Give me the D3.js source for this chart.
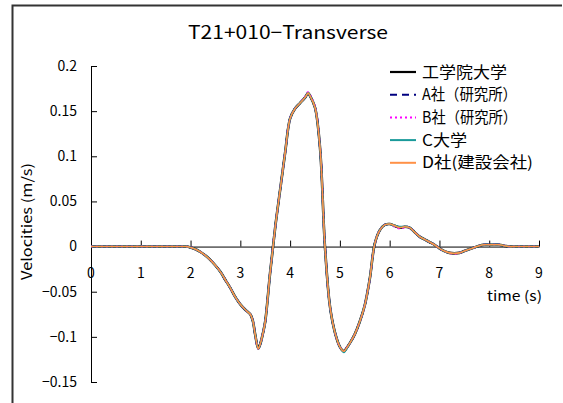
<!DOCTYPE html>
<html lang="ja">
<head>
<meta charset="UTF-8">
<title>T21+010-Transverse</title>
<script src="https://d3js.org/d3.v7.min.js"></script>
<style>
  body { margin: 0; background: #fff; }
  svg { display: block; font-family: "Noto Sans CJK JP", "Noto Sans", sans-serif; }
</style>
</head>
<body>
<svg width="563" height="403"></svg>
<script>
// time axis (s)
const time = [0, 1, 1.8, 1.9, 2.0, 2.1, 2.2, 2.3, 2.4, 2.5, 2.6, 2.7, 2.8, 2.9, 3.0, 3.1, 3.2, 3.25, 3.3, 3.36,
  3.4, 3.45, 3.5, 3.6, 3.7, 3.8, 3.9, 4.0, 4.1, 4.2, 4.3, 4.36, 4.4, 4.5, 4.6, 4.7, 4.8, 4.9, 5.0, 5.08,
  5.1, 5.2, 5.3, 5.4, 5.5, 5.6, 5.7, 5.8, 5.9, 6.0, 6.1, 6.2, 6.3, 6.4, 6.5, 6.6, 6.7, 6.8, 6.9, 7.0,
  7.1, 7.2, 7.3, 7.4, 7.5, 7.6, 7.7, 7.8, 7.9, 8.0, 8.1, 8.2, 8.3, 8.4, 8.5, 9];

// velocities (m/s), one array per organisation
const kogakuin = [0, 0, 0, 0, -0.001, -0.003, -0.006, -0.010, -0.015, -0.021, -0.028, -0.037, -0.046, -0.056, -0.064, -0.070, -0.075, -0.082, -0.098, -0.113,
  -0.108, -0.097, -0.083, -0.028, 0.021, 0.063, 0.104, 0.142, 0.153, 0.159, 0.165, 0.170, 0.167, 0.154, 0.110, 0.000, -0.066, -0.095, -0.111, -0.116,
  -0.115, -0.107, -0.097, -0.083, -0.065, -0.036, 0.003, 0.018, 0.024, 0.025, 0.023, 0.021, 0.022, 0.021, 0.016, 0.011, 0.008, 0.005, 0.002, -0.002,
  -0.005, -0.007, -0.0075, -0.007, -0.005, -0.003, -0.001, 0.001, 0.002, 0.002, 0.002, 0.002, 0.001, 0.000, 0, 0];
const companyA = [0, 0, 0, 0, -0.001, -0.003, -0.006, -0.010, -0.015, -0.021, -0.028, -0.037, -0.046, -0.056, -0.064, -0.070, -0.075, -0.082, -0.098, -0.113,
  -0.108, -0.097, -0.083, -0.028, 0.021, 0.063, 0.104, 0.142, 0.153, 0.159, 0.165, 0.170, 0.167, 0.154, 0.110, 0.000, -0.066, -0.095, -0.111, -0.116,
  -0.115, -0.107, -0.097, -0.083, -0.065, -0.036, 0.003, 0.018, 0.024, 0.025, 0.023, 0.021, 0.022, 0.021, 0.016, 0.011, 0.008, 0.005, 0.002, -0.002,
  -0.005, -0.007, -0.0075, -0.007, -0.005, -0.003, -0.001, 0.001, 0.002, 0.002, 0.002, 0.002, 0.001, 0.000, 0, 0];
const companyB = [0, 0, 0, 0, -0.001, -0.003, -0.006, -0.010, -0.015, -0.021, -0.028, -0.037, -0.046, -0.056, -0.064, -0.070, -0.075, -0.082, -0.098, -0.113,
  -0.108, -0.097, -0.083, -0.028, 0.021, 0.063, 0.104, 0.142, 0.153, 0.159, 0.166, 0.171, 0.168, 0.155, 0.111, 0.001, -0.066, -0.095, -0.111, -0.116,
  -0.115, -0.107, -0.097, -0.083, -0.065, -0.036, 0.003, 0.018, 0.024, 0.025, 0.022, 0.020, 0.021, 0.021, 0.016, 0.011, 0.008, 0.005, 0.002, -0.002,
  -0.005, -0.007, -0.008, -0.007, -0.005, -0.003, -0.001, 0.001, 0.002, 0.002, 0.002, 0.002, 0.001, 0.000, 0, 0];
const universityC = [0, 0, 0, 0, -0.001, -0.003, -0.006, -0.010, -0.015, -0.021, -0.028, -0.037, -0.046, -0.056, -0.064, -0.070, -0.075, -0.082, -0.098, -0.113,
  -0.108, -0.097, -0.083, -0.028, 0.021, 0.063, 0.104, 0.142, 0.153, 0.159, 0.165, 0.170, 0.167, 0.154, 0.110, 0.000, -0.066, -0.095, -0.111, -0.117,
  -0.116, -0.107, -0.097, -0.083, -0.065, -0.036, 0.003, 0.018, 0.024, 0.025, 0.023, 0.022, 0.022, 0.021, 0.016, 0.011, 0.008, 0.005, 0.002, -0.002,
  -0.005, -0.007, -0.0075, -0.007, -0.005, -0.003, -0.001, 0.001, 0.002, 0.002, 0.002, 0.002, 0.001, 0.000, 0, 0];
const companyD = [0, 0, 0, 0, -0.001, -0.003, -0.006, -0.010, -0.015, -0.021, -0.028, -0.037, -0.046, -0.056, -0.064, -0.070, -0.075, -0.082, -0.098, -0.113,
  -0.108, -0.097, -0.083, -0.028, 0.021, 0.063, 0.104, 0.142, 0.153, 0.159, 0.165, 0.170, 0.167, 0.154, 0.110, 0.000, -0.066, -0.095, -0.111, -0.116,
  -0.115, -0.107, -0.097, -0.083, -0.065, -0.036, 0.003, 0.018, 0.024, 0.025, 0.023, 0.021, 0.022, 0.021, 0.016, 0.011, 0.008, 0.005, 0.002, -0.002,
  -0.005, -0.007, -0.0075, -0.007, -0.005, -0.003, -0.001, 0.001, 0.002, 0.002, 0.002, 0.002, 0.001, 0.000, 0, 0];

const seriesNames = ["工学院大学", "A社（研究所）", "B社（研究所）", "C大学", "D社(建設会社)"];
const seriesValues = [kogakuin, companyA, companyB, universityC, companyD];
const seriesColors = ["#000000", "#000080", "#ff00ff", "#1a9a9a", "#ff9147"];
const seriesDash = [null, "7,5", "2,3", null, null];
const seriesWidth = [2.6, 2, 2, 2, 1.6];

const xTicks = [0, 1, 2, 3, 4, 5, 6, 7, 8, 9];
const yTicks = [-0.15, -0.1, -0.05, 0, 0.05, 0.1, 0.15, 0.2];

// rendered widths of the legend labels, to mimic the proportional gothic face
const legendWidths = [85, 95, 95, 45, 111];

const svg = d3.select("svg");

// outer chart frame
svg.append("path")
  .attr("d", "M12.5,420 V5.5 H562")
  .attr("fill", "none")
  .attr("stroke", "#333")
  .attr("stroke-width", 2);

const x = d3.scaleLinear().domain([0, 9]).range([91, 539]);
const y = d3.scaleLinear().domain([-0.15, 0.2]).range([382, 66]);

// title
svg.append("text")
  .attr("x", 188).attr("y", 39)
  .attr("font-size", 18)
  .attr("textLength", 200)
  .attr("lengthAdjust", "spacingAndGlyphs")
  .text("T21+010−Transverse");

// y axis (ticks pointing inward)
const yAxis = svg.append("g")
  .attr("transform", `translate(${x(0)},0)`)
  .call(d3.axisRight(y).tickValues(yTicks).tickSize(6).tickSizeOuter(0).tickFormat(""));
yAxis.select(".domain").attr("stroke", "#000");
yAxis.selectAll(".tick line").attr("stroke", "#000");

svg.append("g").selectAll("text")
  .data(yTicks)
  .join("text")
  .attr("x", 77)
  .attr("y", d => y(d))
  .attr("dy", "0.35em")
  .attr("text-anchor", "end")
  .attr("font-size", 14)
  .text(d => d3.format("")(d));

// x axis on the zero line (ticks pointing up)
const xAxis = svg.append("g")
  .attr("transform", `translate(0,${y(0)})`)
  .call(d3.axisTop(x).tickValues(xTicks).tickSize(6).tickSizeOuter(0).tickFormat(""));
xAxis.select(".domain").attr("stroke", "#000");
xAxis.selectAll(".tick line").attr("stroke", "#000");

svg.append("g").selectAll("text")
  .data(xTicks)
  .join("text")
  .attr("x", d => x(d))
  .attr("y", y(0) + 31)
  .attr("text-anchor", "middle")
  .attr("font-size", 14)
  .text(d => d);

svg.append("text")
  .attr("x", 487).attr("y", 301)
  .attr("font-size", 14)
  .attr("textLength", 55)
  .attr("lengthAdjust", "spacingAndGlyphs")
  .text("time (s)");

svg.append("text")
  .attr("transform", "translate(32,280) rotate(-90)")
  .attr("font-size", 14)
  .attr("textLength", 117)
  .attr("lengthAdjust", "spacingAndGlyphs")
  .text("Velocities (m/s)");

// curves
const line = d3.line()
  .x((d, i) => x(time[i]))
  .y(d => y(d))
  .curve(d3.curveCatmullRom.alpha(0.5));

svg.append("g").selectAll("path")
  .data(seriesValues)
  .join("path")
  .attr("d", d => line(d))
  .attr("fill", "none")
  .attr("stroke", (d, i) => seriesColors[i])
  .attr("stroke-width", (d, i) => seriesWidth[i])
  .attr("stroke-dasharray", (d, i) => seriesDash[i])
  .attr("stroke-linejoin", "round");

// legend
const legend = svg.append("g").selectAll("g")
  .data(seriesNames)
  .join("g")
  .attr("transform", (d, i) => `translate(390,${72 + i * 22.7})`);

legend.append("line")
  .attr("x1", 0).attr("x2", 26)
  .attr("stroke", (d, i) => seriesColors[i])
  .attr("stroke-width", (d, i) => i === 0 ? 2.2 : 2)
  .attr("stroke-dasharray", (d, i) => seriesDash[i]);

legend.append("text")
  .attr("x", 32)
  .attr("dy", "0.36em")
  .attr("font-size", 15.5)
  .attr("textLength", (d, i) => legendWidths[i])
  .attr("lengthAdjust", "spacingAndGlyphs")
  .text(d => d);
</script>
</body>
</html>
